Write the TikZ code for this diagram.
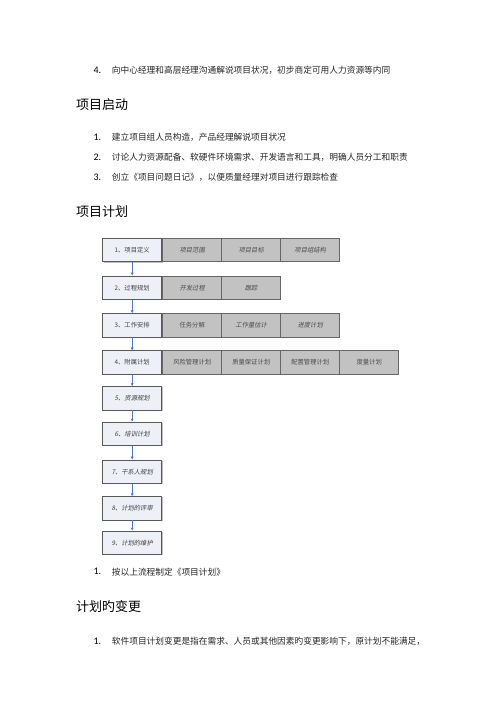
\documentclass[tikz,border=0pt]{standalone}
\usepackage{fontspec}
\setmainfont{Noto Sans CJK SC}
\newfontfamily\cjk{Noto Sans CJK SC}
\newfontfamily\cjkslant[FakeSlant=0.2]{Noto Sans CJK SC}
\newfontfamily\numfont{Carlito}
\usetikzlibrary{arrows.meta,shadows}
\definecolor{flowblue}{HTML}{4F7BC0}
\definecolor{stagefill}{HTML}{EEF0F8}
\definecolor{partfill}{HTML}{C2C2C2}
\begin{document}
\begin{tikzpicture}[x=1pt,y=-1pt,
	stagebox/.style={draw=black!65, fill=stagefill, line width=0.6pt, minimum width=59pt, minimum height=23.5pt, inner sep=0pt, font=\fontsize{6.3}{7}\cjk, text=black!75, drop shadow={shadow xshift=0.8pt, shadow yshift=-0.8pt, opacity=0.5}},
	partbox/.style={draw=black!60, fill=partfill, line width=0.6pt, minimum width=59pt, minimum height=23.5pt, inner sep=0pt, font=\fontsize{6.3}{7}\cjk, text=black!70},
	slanted/.style={font=\fontsize{6.3}{7}\cjkslant},
	flow/.style={draw=flowblue, line width=0.6pt, -{Latex[length=3pt,width=3pt]}},
	heading/.style={anchor=west, inner sep=0pt, font=\fontsize{13}{15}\cjk},
	item/.style={anchor=west, inner sep=0pt, font=\fontsize{8.7}{10}\cjk, text=black!85},
	num/.style={anchor=west, inner sep=0pt, font=\fontsize{10}{12}\numfont}]

	\useasboundingbox[fill=white] (0,0) rectangle (500,707);

	% text above the chart
	\node (n0) [num] at (93.3, 70) {4.};
	\node (t0) [item] at (111.7, 70) {向中心经理和高层经理沟通解说项目状况，初步商定可用人力资源等内同};
	\node (h1) [heading] at (76, 105) {项目启动};
	\node (n1) [num] at (93.3, 137.5) {1.};
	\node (t1) [item] at (111.7, 137.5) {建立项目组人员构造，产品经理解说项目状况};
	\node (n2) [num] at (93.3, 157.7) {2.};
	\node (t2) [item] at (111.7, 157.7) {讨论人力资源配备、软硬件环境需求、开发语言和工具，明确人员分工和职责};
	\node (n3) [num] at (93.3, 177) {3.};
	\node (t3) [item] at (111.7, 177) {创立《项目问题日记》，以便质量经理对项目进行跟踪检查};
	\node (h2) [heading] at (76, 211.7) {项目计划};

	% stages
	\node (s1) [stagebox] at (132.2, 250) {1、项目定义};
	\node (s2) [stagebox] at (132.2, 287.7) {2、过程规划};
	\node (s3) [stagebox] at (132.2, 325.3) {3、工作安排};
	\node (s4) [stagebox] at (132.2, 362.5) {4、附属计划};
	\node (s5) [stagebox, slanted] at (132.2, 398.3) {5、资源规划};
	\node (s6) [stagebox, slanted] at (132.2, 433.8) {6、培训计划};
	\node (s7) [stagebox, slanted] at (132.2, 471.7) {7、干系人规划};
	\node (s8) [stagebox, slanted] at (132.2, 508.3) {8、计划的评审};
	\node (s9) [stagebox, slanted] at (132.2, 542.8) {9、计划的维护};

	% parts of each stage
	\node (p11) [partbox, slanted] at (192.2, 250) {项目范围};
	\node (p12) [partbox, slanted] at (251.2, 250) {项目目标};
	\node (p13) [partbox, slanted] at (310.2, 250) {项目组结构};
	\node (p21) [partbox, slanted] at (192.2, 287.7) {开发过程};
	\node (p22) [partbox, slanted] at (251.2, 287.7) {跟踪};
	\node (p31) [partbox] at (192.2, 325.3) {任务分解};
	\node (p32) [partbox, slanted] at (251.2, 325.3) {工作量估计};
	\node (p33) [partbox, slanted] at (310.2, 325.3) {进度计划};
	\node (p41) [partbox] at (192.2, 362.5) {风险管理计划};
	\node (p42) [partbox] at (251.2, 362.5) {质量保证计划};
	\node (p43) [partbox] at (310.2, 362.5) {配置管理计划};
	\node (p44) [partbox] at (369.2, 362.5) {度量计划};

	\path[flow]
	(s1) edge (s2)
	(s2) edge (s3)
	(s3) edge (s4)
	(s4) edge (s5)
	(s5) edge (s6)
	(s6) edge (s7)
	(s7) edge (s8)
	(s8) edge (s9);

	% text below the chart
	\node (n4) [num] at (93.3, 571.7) {1.};
	\node (t4) [item] at (111.7, 571.7) {按以上流程制定《项目计划》};
	\node (h3) [heading] at (76, 606.7) {计划旳变更};
	\node (n5) [num] at (93.3, 641.7) {1.};
	\node (t5) [item] at (111.7, 641.7) {软件项目计划变更是指在需求、人员或其他因素旳变更影响下，原计划不能满足，};

\end{tikzpicture}
\end{document}
